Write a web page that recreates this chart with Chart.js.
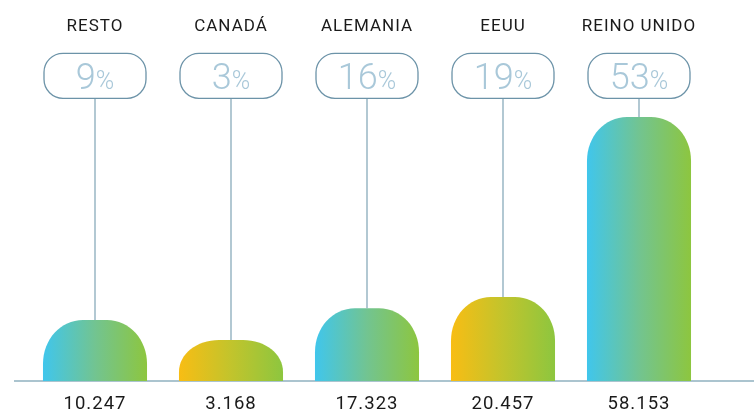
<!DOCTYPE html>
<html><head><meta charset="utf-8">
<script src="https://cdn.jsdelivr.net/npm/chart.js@4.4.1/dist/chart.umd.min.js"></script>
<style>html,body{margin:0;padding:0;background:#fff}#wrap{width:754px;height:415px;position:relative}</style>
</head><body><div id="wrap"><canvas id="c"></canvas></div>
<script>
// ---- data ----
const categories = ['RESTO', 'CANADÁ', 'ALEMANIA', 'EEUU', 'REINO UNIDO'];
const values = [10247, 3168, 17323, 20457, 58153];
const valueLabels = ['10.247', '3.168', '17.323', '20.457', '58.153'];
const shares = [9, 3, 16, 19, 53];
// bar heights as drawn in the picture (percent of the tallest bar)
const barLevel = [23.1, 15.5, 27.6, 31.8, 100];
const barTone = ['blue', 'yellow', 'blue', 'yellow', 'blue'];

const GRADS = {
  blue: ['#40c6ec', '#72c491', '#8dc63f'],
  yellow: ['#f8bd14', '#c2c42c', '#8dc63f']
};

function roundRect(ctx, x, y, w, h, r) {
  ctx.beginPath();
  ctx.moveTo(x + r, y);
  ctx.lineTo(x + w - r, y);
  ctx.arcTo(x + w, y, x + w, y + r, r);
  ctx.lineTo(x + w, y + h - r);
  ctx.arcTo(x + w, y + h, x + w - r, y + h, r);
  ctx.lineTo(x + r, y + h);
  ctx.arcTo(x, y + h, x, y + h - r, r);
  ctx.lineTo(x, y + r);
  ctx.arcTo(x, y, x + r, y, r);
  ctx.closePath();
}

const decor = {
  id: 'decor',
  beforeDraw(chart) {
    chart.ctx.letterSpacing = '1px';
  },
  beforeDatasetsDraw(chart) {
    const ctx = chart.ctx;
    const yb = chart.scales.y.getPixelForValue(0);
    ctx.save();
    ctx.strokeStyle = '#8fb0bf';
    ctx.lineWidth = 1.5;
    ctx.beginPath();
    ctx.moveTo(14, yb);
    ctx.lineTo(chart.width, yb);
    ctx.stroke();
    ctx.restore();
  },
  afterDatasetsDraw(chart) {
    const ctx = chart.ctx;
    const meta = chart.getDatasetMeta(0);
    ctx.save();
    ctx.letterSpacing = '0px';
    meta.data.forEach((el, i) => {
      const p = el.getProps(['x', 'y', 'base', 'width'], true);
      const left = p.x - p.width / 2, right = p.x + p.width / 2;
      const top = p.y, bottom = p.base, h = bottom - top;
      const rx = Math.min(40, p.width / 2), ry = Math.min(44, h * 0.78);
      const k = 0.56;
      const g = ctx.createLinearGradient(left, 0, right, 0);
      const c = GRADS[barTone[i]];
      g.addColorStop(0, c[0]); g.addColorStop(0.5, c[1]); g.addColorStop(1, c[2]);
      ctx.fillStyle = g;
      ctx.beginPath();
      ctx.moveTo(left, bottom);
      ctx.lineTo(left, top + ry);
      ctx.bezierCurveTo(left, top + ry - k * ry, left + rx - k * rx, top, left + rx, top);
      ctx.lineTo(right - rx, top);
      ctx.bezierCurveTo(right - rx + k * rx, top, right, top + ry - k * ry, right, top + ry);
      ctx.lineTo(right, bottom);
      ctx.closePath();
      ctx.fill();

      // connector + pill
      const pillW = 102, pillH = 45, pillTop = 53.3;
      const cx = p.x;
      ctx.strokeStyle = '#7fa3b5';
      ctx.lineWidth = 1.2;
      ctx.beginPath();
      ctx.moveTo(cx, pillTop + pillH);
      ctx.lineTo(cx, top);
      ctx.stroke();

      ctx.strokeStyle = '#6c93a8';
      ctx.lineWidth = 1.3;
      roundRect(ctx, cx - pillW / 2, pillTop, pillW, pillH, 19);
      ctx.fillStyle = '#ffffff';
      ctx.fill();
      ctx.stroke();

      // percentage text
      const num = String(shares[i]);
      ctx.fillStyle = '#a9c8d9';
      ctx.textBaseline = 'alphabetic';
      ctx.textAlign = 'left';
      ctx.font = '300 36px Roboto';
      const wn = ctx.measureText(num).width;
      ctx.font = '300 25px Roboto';
      const wp = ctx.measureText('%').width;
      const sx = cx - (wn + wp) / 2;
      ctx.font = '300 36px Roboto';
      ctx.fillText(num, sx, 88.5);
      ctx.font = '300 25px Roboto';
      ctx.fillText('%', sx + wn, 88.5);
    });
    ctx.restore();
  }
};

new Chart(document.getElementById('c'), {
  type: 'bar',
  data: {
    labels: categories,
    datasets: [{
      data: barLevel,
      backgroundColor: 'rgba(0,0,0,0)',
      borderWidth: 0,
      categoryPercentage: 1,
      barPercentage: 0.765
    }]
  },
  options: {
    responsive: true,
    maintainAspectRatio: false,
    animation: false,
    events: [],
    layout: { padding: { left: 27, right: 47, top: 0, bottom: 0 } },
    plugins: { legend: { display: false }, tooltip: { enabled: false } },
    scales: {
      x: {
        type: 'category',
        position: 'top',
        offset: true,
        grid: { display: false, drawTicks: false },
        border: { display: false },
        ticks: { color: '#1a1a1a', font: { family: 'Roboto', size: 17 }, padding: 80, maxRotation: 0, autoSkip: false },
        afterFit(a) { a.height = 117; a.paddingLeft = 0; a.paddingRight = 0; }
      },
      x2: {
        type: 'category',
        position: 'bottom',
        labels: valueLabels,
        offset: true,
        grid: { display: false, drawTicks: false },
        border: { display: false },
        ticks: { color: '#1a1a1a', font: { family: 'Roboto', size: 18.5 }, padding: 12, maxRotation: 0, autoSkip: false },
        afterFit(a) { a.height = 34; a.paddingLeft = 0; a.paddingRight = 0; }
      },
      y: { display: false, min: 0, max: 100 }
    }
  },
  plugins: [decor]
});
</script>
</body></html>
